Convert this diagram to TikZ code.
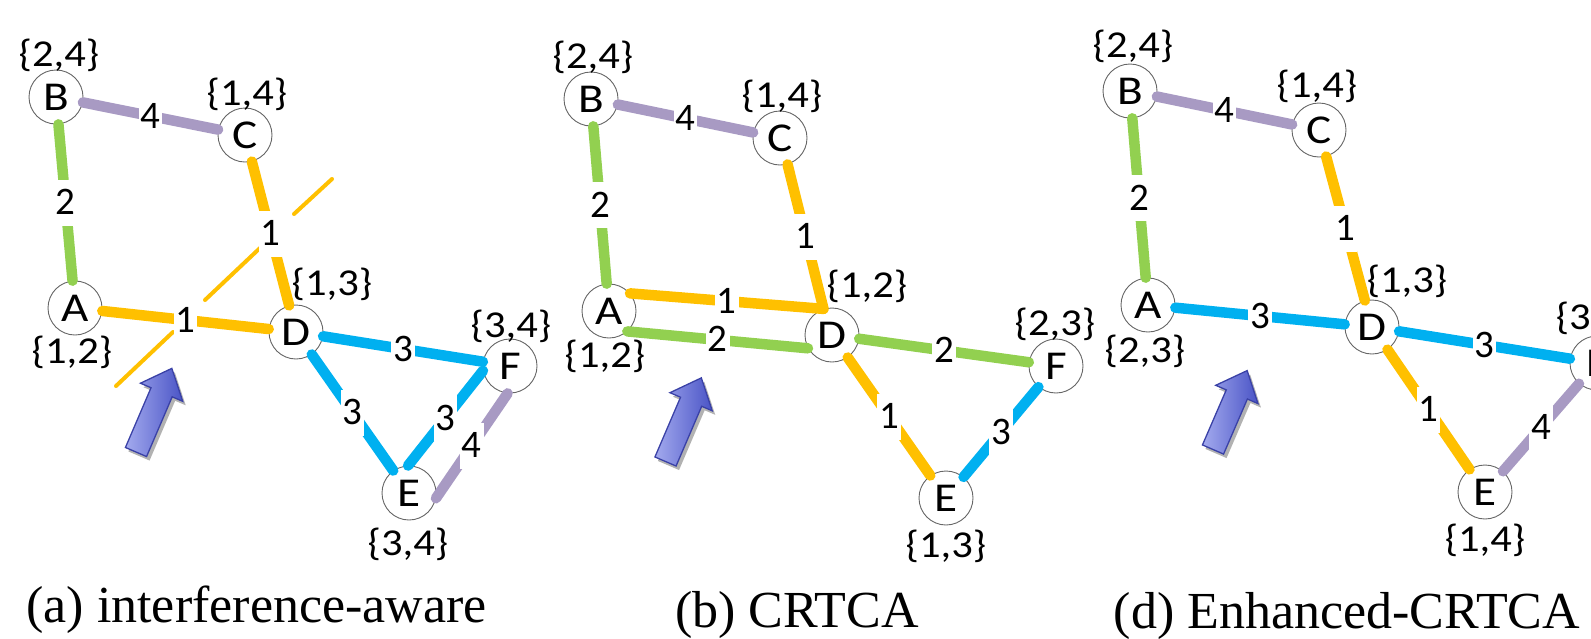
\documentclass[tikz,border=0pt]{standalone}
\usepackage{fontspec}
\setmainfont{Liberation Serif}
\newfontfamily\nodefont[FakeStretch=1.15]{Carlito}
\newfontfamily\setfont[FakeStretch=1.12]{Carlito}
\newfontfamily\labfont{Carlito}
\usetikzlibrary{calc,shadows}

\definecolor{chgreen}{HTML}{92D050}
\definecolor{chpurple}{HTML}{A89AC3}
\definecolor{chorange}{HTML}{FFC000}
\definecolor{chblue}{HTML}{00B0F0}
\definecolor{arrowlight}{HTML}{A3AAEE}
\definecolor{arrowdark}{HTML}{4A54C6}
\definecolor{arrowedge}{HTML}{3A41A6}

\tikzset{
  vertex/.style={circle, draw=black!60, line width=0.9pt, fill=white, text=black,
    minimum size=54pt, inner sep=0pt, font=\nodefont\fontsize{41}{41}\selectfont},
  chset/.style={inner sep=0pt, text=black, font=\setfont\fontsize{38}{38}\selectfont},
  link/.style={line width=10.5pt, line cap=round, line join=round},
  elab/.style={fill=white, text=black, inner xsep=2pt, inner ysep=0pt, text height=35pt,
    text depth=11pt, font=\labfont\fontsize{39}{39}\selectfont},
  interf/.style={chorange, line width=4pt, line cap=round},
  caption/.style={anchor=base, inner sep=0pt, text=black, font=\fontsize{52}{60}\selectfont},
  pics/bigarrow/.style={code={
    \path[draw=arrowedge, line width=1.3pt, left color=arrowlight, right color=arrowdark,
      drop shadow={shadow xshift=3pt, shadow yshift=-4pt, opacity=0.3, fill=black}]
      (0,-11.5) -- (#1-26,-11.5) -- (#1-26,-23) -- (#1,0) -- (#1-26,23)
      -- (#1-26,11.5) -- (0,11.5) -- cycle;
  }},
}

\begin{document}
\begin{tikzpicture}[x=1pt, y=-1pt]
\useasboundingbox (0,0) rectangle (1591,638);
\clip (0,0) rectangle (1591,638);

% ---------- (a) interference-aware ----------
\node[vertex] (aB) at (56,97) {B};
\node[vertex] (aC) at (245,135) {C};
\node[vertex] (aA) at (75,308) {A};
\node[vertex] (aD) at (296,332) {D};
\node[vertex] (aE) at (409,493) {E};
\node[vertex] (aF) at (510,366) {F};
\node[chset] (aBs) at (59,55) {\{2,4\}};
\node[chset] (aCs) at (247,94) {\{1,4\}};
\node[chset] (aAs) at (72,352) {\{1,2\}};
\node[chset] (aDs) at (332,284) {\{1,3\}};
\node[chset] (aFs) at (511,326) {\{3,4\}};
\node[chset] (aEs) at (408,544) {\{3,4\}};

% interference range of link A--D
\draw[interf] (332,179) -- (294,214);
\draw[interf] (260,248) -- (205,300);
\draw[interf] (173,332) -- (116,386);

\draw[link, chpurple] (aB) -- node[elab] {4} (aC);
\draw[link, chgreen] (aB) -- node[elab] {2} (aA);
\draw[link, chorange] (aC) -- node[elab] {1} (aD);
\draw[link, chorange] (aA) -- node[elab] {1} (aD);
\draw[link, chblue] (aD) -- node[elab] {3} (aF);
\draw[link, chblue] (aD) -- node[elab] {3} (aE);
\draw[link, chblue] (aE.92) -- node[elab] {3} (aF.190);
\draw[link, chpurple] (aE.349) -- node[elab] {4} (aF.265);

\pic[rotate=66.8] at (136,452) {bigarrow=91};
\node[caption] (capa) at (256.5,622) {(a) interference-aware};

% ---------- (b) CRTCA ----------
\node[vertex] (bB) at (591,99) {B};
\node[vertex] (bC) at (780,138) {C};
\node[vertex] (bA) at (609,311) {A};
\node[vertex] (bD) at (832,335) {D};
\node[vertex] (bE) at (946,498) {E};
\node[vertex] (bF) at (1056,366) {F};
\node[chset] (bBs) at (593,57) {\{2,4\}};
\node[chset] (bCs) at (782,96) {\{1,4\}};
\node[chset] (bAs) at (605,356) {\{1,2\}};
\node[chset] (bDs) at (867,286) {\{1,2\}};
\node[chset] (bFs) at (1055,324) {\{2,3\}};
\node[chset] (bEs) at (946,546) {\{1,3\}};

\draw[link, chpurple] (bB) -- node[elab] {4} (bC);
\draw[link, chgreen] (bB) -- node[elab] {2} (bA);
\draw[link, chorange] (bA.40) -- node[elab] {1} (bD.108) -- node[elab] {1} (bC.286);
\draw[link, chgreen] (bA.312) -- node[elab] {2} (bD.209);
\draw[link, chgreen] (bD) -- node[elab] {2} (bF);
\draw[link, chorange] (bD) -- node[elab] {1} (bE);
\draw[link, chblue] (bE) -- node[elab] {3} (bF);

\pic[rotate=66.8] at (665.5,461.5) {bigarrow=91};
\node[caption] (capb) at (797,627) {(b) CRTCA};

% ---------- (d) Enhanced-CRTCA ----------
\node[vertex] (dB) at (1130,91) {B};
\node[vertex] (dC) at (1319,130) {C};
\node[vertex] (dA) at (1148,305) {A};
\node[vertex] (dD) at (1372,327) {D};
\node[vertex] (dE) at (1485,492) {E};
\node[vertex] (dF) at (1597,363) {F};
\node[chset] (dBs) at (1133,46) {\{2,4\}};
\node[chset] (dCs) at (1317,86) {\{1,4\}};
\node[chset] (dAs) at (1145,351) {\{2,3\}};
\node[chset] (dDs) at (1407,281) {\{1,3\}};
\node[chset] (dFs) at (1596,318) {\{3,4\}};
\node[chset] (dEs) at (1485,540) {\{1,4\}};

\draw[link, chpurple] (dB) -- node[elab] {4} (dC);
\draw[link, chgreen] (dB) -- node[elab] {2} (dA);
\draw[link, chorange] (dC) -- node[elab] {1} (dD);
\draw[link, chblue] (dA) -- node[elab] {3} (dD);
\draw[link, chblue] (dD) -- node[elab] {3} (dF);
\draw[link, chorange] (dD) -- node[elab] {1} (dE);
\draw[link, chpurple] (dE) -- node[elab] {4} (dF);

\pic[rotate=66.6] at (1213,449.5) {bigarrow=86};
\node[caption] (capd) at (1347,628) {(d) Enhanced-CRTCA};
\end{tikzpicture}
\end{document}
